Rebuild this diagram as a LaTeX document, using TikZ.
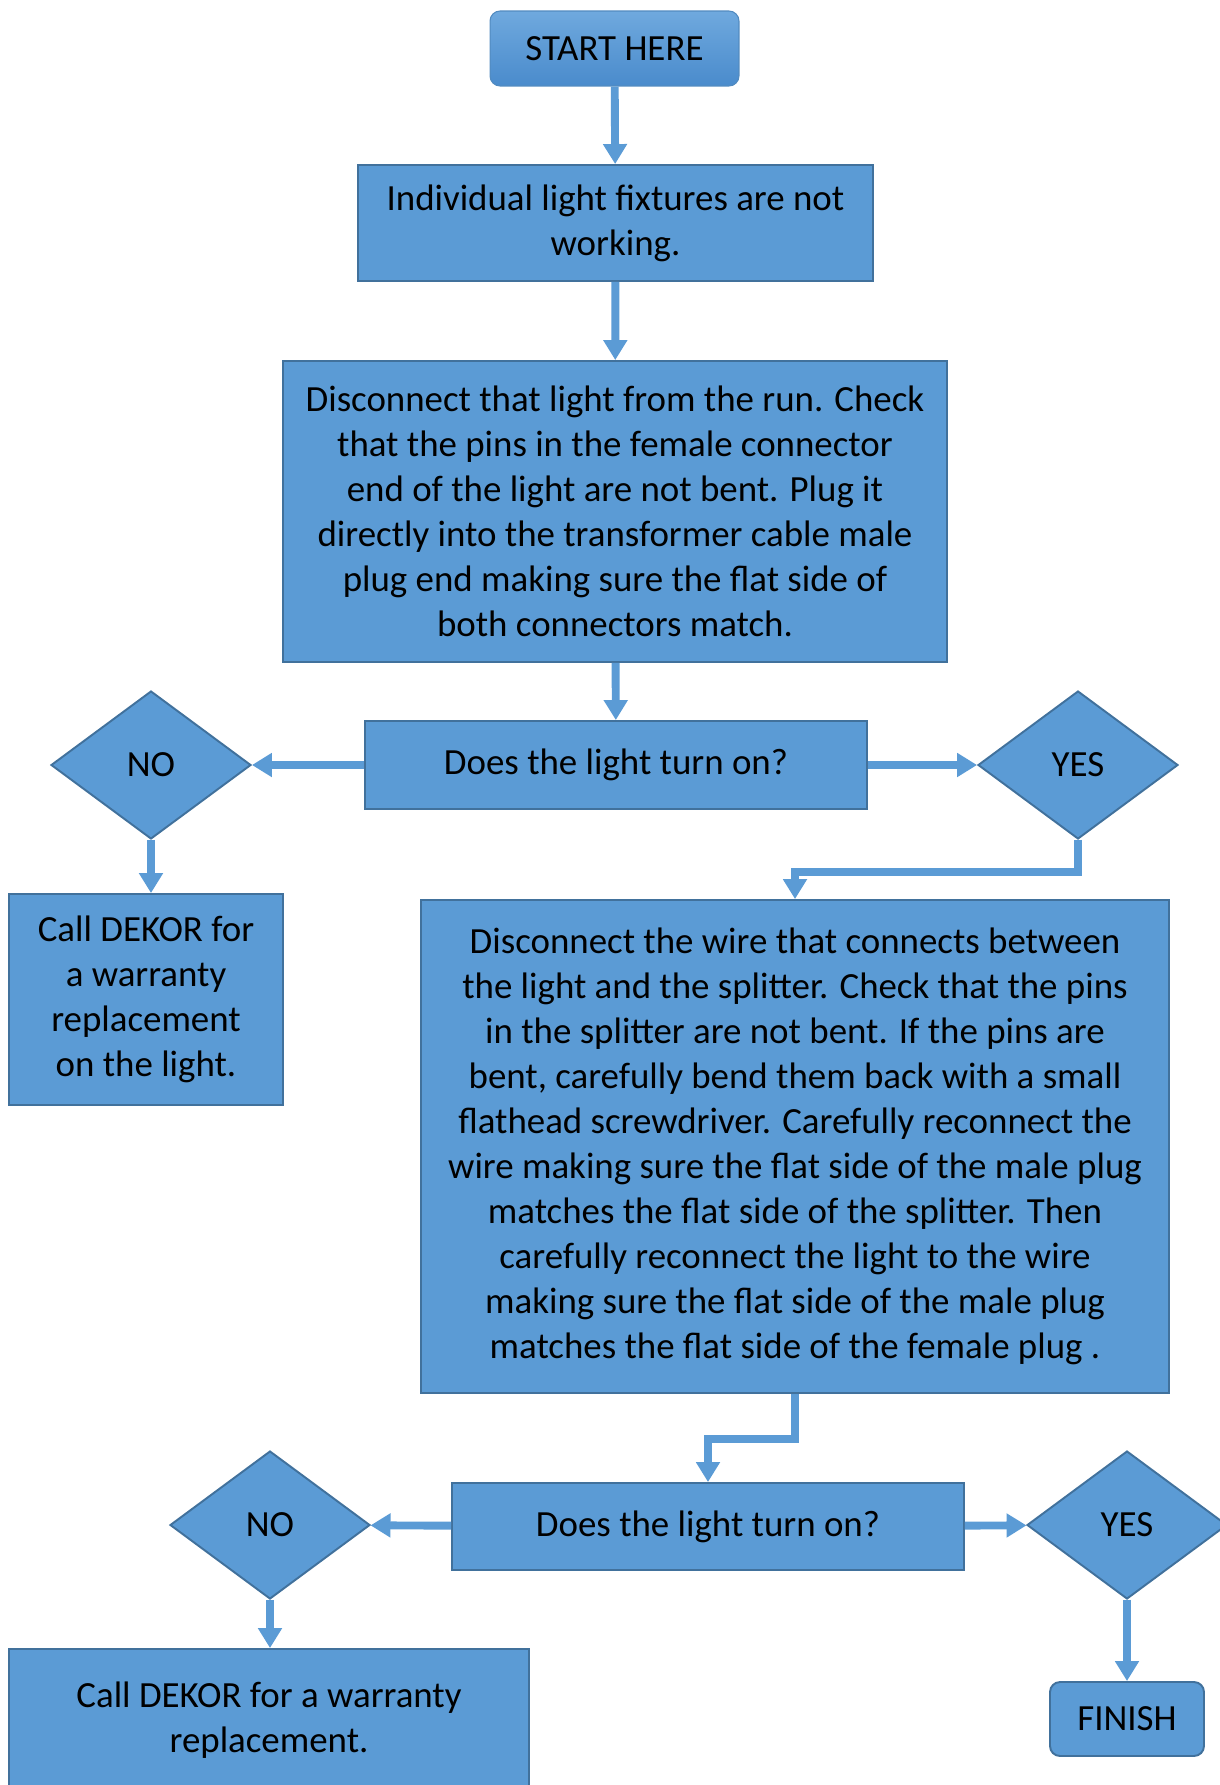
\documentclass[tikz,border=0pt]{standalone}
\usepackage{fontspec}
\setmainfont{Carlito}
\usetikzlibrary{arrows.meta, shapes.geometric, positioning, calc}
\definecolor{StepBlue}{HTML}{5B9BD5}
\definecolor{EdgeBlue}{HTML}{41719C}
\definecolor{StartTop}{HTML}{6FA9DE}
\definecolor{StartBottom}{HTML}{4A8BCC}
\newcommand{\BoxFont}{\fontsize{21pt}{25.6pt}\selectfont}

\begin{document}
\begin{tikzpicture}[x=0.02cm, y=-0.02cm,
  stepbox/.style={draw=EdgeBlue, line width=1.1pt, fill=StepBlue, align=center, font=\BoxFont, inner sep=0pt},
  endbox/.style={stepbox, rounded corners=0.2cm},
  choice/.style={diamond, draw=EdgeBlue, line width=1.1pt, fill=StepBlue, font=\BoxFont, inner sep=0pt,
    minimum width=4cm, minimum height=2.96cm},
  flow/.style={StepBlue, line width=4.5pt, -{Triangle[width=0.46cm, length=0.4cm]}}]
  \useasboundingbox (0,0) rectangle (1220,1785);
  \clip (0,0) rectangle (1220,1785);
  % first run check
  \node[endbox, draw=StepBlue!90!black, line width=0.6pt, top color=StartTop, bottom color=StartBottom,
    minimum width=4.98cm, minimum height=1.5cm] (start) at (614.5,48.5) {START HERE};
  \node[stepbox, minimum width=10.3cm, minimum height=2.32cm] (fixtures) at (615.5,223)
    {Individual light fixtures are not\\working.};
  \node[stepbox, minimum width=13.28cm, minimum height=6.02cm] (direct) at (615,511.5)
    {Disconnect that light from the run. Check\\that the pins in the female connector\\end of the light are not bent. Plug it\\directly into the transformer cable male\\plug end making sure the flat side of\\both connectors match.};
  \node[stepbox, minimum width=10.04cm, minimum height=1.76cm] (askA) at (616,765) {Does the light turn on?};
  \node[choice] (noA) at (151,765) {NO};
  \node[choice] (yesA) at (1078,765) {YES};
  \node[stepbox, minimum width=5.48cm, minimum height=4.22cm] (callA) at (146,999.5)
    {Call DEKOR for\\a warranty\\replacement\\on the light.};
  % splitter check
  \node[stepbox, minimum width=14.96cm, minimum height=9.86cm] (splitter) at (795,1146.5)
    {Disconnect the wire that connects between\\the light and the splitter. Check that the pins\\in the splitter are not bent. If the pins are\\bent, carefully bend them back with a small\\flathead screwdriver. Carefully reconnect the\\wire making sure the flat side of the male plug\\matches the flat side of the splitter. Then\\carefully reconnect the light to the wire\\making sure the flat side of the male plug\\matches the flat side of the female plug .};
  \node[stepbox, minimum width=10.24cm, minimum height=1.74cm] (askB) at (708,1526.5) {Does the light turn on?};
  \node[choice] (noB) at (270,1525) {NO};
  \node[choice] (yesB) at (1127,1525) {YES};
  \node[stepbox, minimum width=10.4cm, minimum height=2.84cm] (callB) at (269,1720)
    {Call DEKOR for a warranty\\replacement.};
  \node[endbox, minimum width=3.08cm, minimum height=1.48cm] (finish) at (1127,1719) {FINISH};
  % connectors
  \draw[flow] (start) -- (fixtures);
  \draw[flow] (fixtures) -- (direct);
  \draw[flow] (direct) -- (askA);
  \draw[flow] (askA) -- (noA);
  \draw[flow] (askA) -- (yesA);
  \draw[flow] (noA.south) -- (noA.south |- callA.north);
  \draw[flow] (yesA.south) -- ++(0,32) -| (splitter.north);
  \draw[flow] (splitter.south) -- ++(0,45) -| (askB.north);
  \draw[flow] (askB) -- (noB);
  \draw[flow] (askB) -- (yesB);
  \draw[flow] (noB.south) -- (noB.south |- callB.north);
  \draw[flow] (yesB.south) -- (finish.north);
\end{tikzpicture}
\end{document}
